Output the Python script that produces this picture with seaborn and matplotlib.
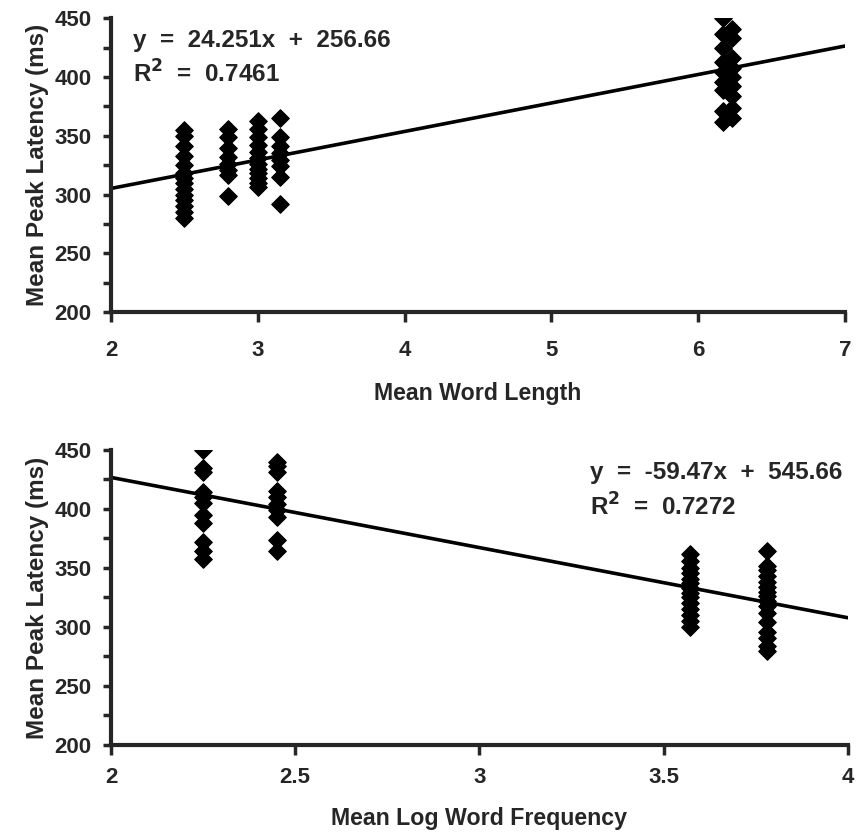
import numpy as np
import pandas as pd
import matplotlib
matplotlib.use("Agg")
import matplotlib.pyplot as plt
from matplotlib.ticker import MultipleLocator
import seaborn as sns

# word length panel: latencies per word-length group
len_x = [2.5, 2.8, 3.0, 3.15, 6.17, 6.23]
len_y = [
    [355, 350, 341, 333, 325, 318, 314, 310, 305, 300, 295, 290, 285, 280],
    [356, 349, 340, 332, 326, 321, 317, 299],
    [363, 356, 349, 342, 336, 331, 326, 322, 318, 314, 310, 306],
    [365, 349, 341, 335, 329, 324, 315, 292],
    [450, 437, 425, 413, 404, 396, 389, 371, 362],
    [441, 433, 416, 408, 400, 392, 384, 374, 365],
]
len_slope, len_icpt, len_r2 = 24.251, 256.66, 0.7461

# log frequency panel
freq_x = [2.25, 2.45, 3.57, 3.78]
freq_y = [
    [450, 435, 431, 414, 410, 405, 395, 388, 372, 364, 358],
    [440, 436, 431, 415, 410, 404, 399, 393, 374, 364],
    [362, 356, 350, 346, 341, 337, 333, 329, 325, 320, 315, 310, 305, 300],
    [364, 352, 348, 343, 338, 334, 330, 326, 322, 318, 312, 304, 296, 291, 284, 280],
]
freq_slope, freq_icpt, freq_r2 = -59.47, 545.66, 0.7272


def to_frame(xs, ys):
    rows = [(x, v) for x, col in zip(xs, ys) for v in col]
    return pd.DataFrame(rows, columns=["x", "latency"])


sns.set_style("ticks")
plt.rcParams["font.family"] = ["Liberation Sans", "DejaVu Sans"]
plt.rcParams["font.weight"] = "bold"

fig = plt.figure(figsize=(8.57, 8.32), dpi=100)
ax1 = fig.add_axes([0.1295, 0.625, 0.8565, 0.353])
ax2 = fig.add_axes([0.1295, 0.1046, 0.86, 0.3546])


def panel(ax, df, slope, icpt, r2, xlim, xstep, xlabel, txt_pos, xpad, xlabpad):
    sns.scatterplot(data=df, x="x", y="latency", ax=ax, marker="D", s=80,
                    color="black", edgecolor="black", linewidth=0.8, zorder=3)
    xs = np.array(xlim, dtype=float)
    sns.lineplot(x=xs, y=slope * xs + icpt, ax=ax, color="black", lw=2.6, zorder=2)
    ax.set_xlim(*xlim)
    ax.set_ylim(200, 450)
    ax.xaxis.set_major_locator(MultipleLocator(xstep))
    ax.yaxis.set_major_locator(MultipleLocator(50))
    ax.yaxis.set_minor_locator(MultipleLocator(25))
    sns.despine(ax=ax)
    for s in ["left", "bottom"]:
        ax.spines[s].set_linewidth(3)
    ax.tick_params(axis="x", length=7, width=2.5, pad=xpad, labelsize=16)
    ax.tick_params(axis="y", which="both", length=6, width=2.5, pad=8, labelsize=16)
    for lab in ax.get_xticklabels() + ax.get_yticklabels():
        lab.set_fontweight("bold")
    ax.set_xlabel(xlabel, fontsize=16.7, fontweight="bold", labelpad=xlabpad)
    ax.set_ylabel("Mean Peak Latency (ms)", fontsize=17.5, fontweight="bold", labelpad=4)
    sign = "+" if icpt >= 0 else "-"
    ax.text(txt_pos[0], txt_pos[1], f"y  =  {slope:g}x  {sign}  {abs(icpt):g}",
            transform=ax.transAxes, fontsize=17.5, fontweight="bold", va="center")
    ax.text(txt_pos[0], txt_pos[1] - 0.115, f"R$^{{\\mathbf{{2}}}}$  =  {r2:.4f}",
            transform=ax.transAxes, fontsize=17.5, fontweight="bold", va="center")


panel(ax1, to_frame(len_x, len_y), len_slope, len_icpt, len_r2,
      (2, 7), 1, "Mean Word Length", (0.03, 0.925), 13, 15)
panel(ax2, to_frame(freq_x, freq_y), freq_slope, freq_icpt, freq_r2,
      (2, 4), 0.5, "Mean Log Word Frequency", (0.65, 0.922), 8.5, 14)
ax2.xaxis.set_major_formatter(plt.FuncFormatter(lambda v, p: f"{v:g}"))

fig.savefig("out.png", dpi=100)
